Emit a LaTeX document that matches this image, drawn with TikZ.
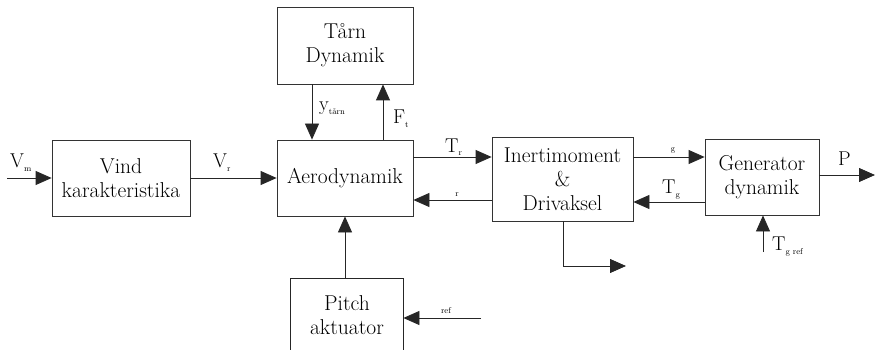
\documentclass[tikz,border=0pt]{standalone}
\usepackage{fontspec}
\usetikzlibrary{arrows.meta}
\newcommand{\sublab}[2]{#1\raisebox{-4pt}{\fontsize{8.5}{8.5}\selectfont #2}}
\begin{document}
\begin{tikzpicture}[x=1pt,y=-1pt,
  blk/.style={draw=black!80, line width=0.8pt, inner sep=0pt, align=center,
    font=\fontsize{21.5}{24}\selectfont},
  arr/.style={draw=black!85, line width=0.8pt, -{Triangle[length=16pt,width=14pt]}},
  ln/.style={draw=black!85, line width=0.8pt},
  lab/.style={inner sep=0pt, anchor=base west, font=\fontsize{20}{20}\selectfont},
  sml/.style={inner sep=0pt, font=\fontsize{8.5}{8.5}\selectfont}]
\useasboundingbox (0,0) rectangle (875,350);

% blocks
\node[blk, minimum width=138pt, minimum height=76pt] (vind) at (121,178) {Vind\\karakteristika};
\node[blk, minimum width=136pt, minimum height=76pt] (aero) at (345,178) {Aerodynamik};
\node[blk, minimum width=136pt, minimum height=77pt] (tarn) at (345,45.5) {Tårn\\Dynamik};
\node[blk, minimum width=141pt, minimum height=84pt] (inert) at (562.5,179) {Inertimoment\\\&\\Drivaksel};
\node[blk, minimum width=114pt, minimum height=76pt] (gen) at (762,177) {Generator\\dynamik};
\node[blk, draw=none, minimum width=112pt, minimum height=73pt] (pitch) at (347,315) {Pitch\\aktuator};
\draw[ln] (pitch.south west) -- (pitch.north west) -- (pitch.north east) -- (pitch.south east);

% free ends
\coordinate (vmin) at (7,178);
\coordinate (pout) at (875,175);
\coordinate (tgref) at (763,252);
\coordinate (refin) at (481,318);
\coordinate (dout) at (626,266);

% connectors
\draw[arr] (vmin) -- (vind.west);
\draw[arr] (vind.east) -- (aero.west);
\draw[arr] (tarn.south -| 312,0) -- (aero.north -| 312,0);
\draw[arr] (aero.north -| 383,0) -- (tarn.south -| 383,0);
\draw[arr] (aero.east |- 0,157) -- (inert.west |- 0,157);
\draw[arr] (inert.west |- 0,200) -- (aero.east |- 0,200);
\draw[arr] (inert.east |- 0,157) -- (gen.west |- 0,157);
\draw[arr] (gen.west |- 0,202) -- (inert.east |- 0,202);
\draw[arr] (gen.east |- pout) -- (pout);
\draw[arr] (tgref) -- (tgref |- gen.south);
\draw[arr] (aero.south |- pitch.north) -- (aero.south);
\draw[arr] (refin) -- (pitch.east |- refin);
\draw[arr] (inert.south -| 563,0) |- (dout);

% labels
\node[lab] (lvm) at (10,167) {\sublab{V}{m}};
\node[lab] (lvr) at (213,167) {\sublab{V}{r}};
\node[lab] (lyt) at (319,111) {\sublab{y}{tårn}};
\node[lab] (lft) at (393,124) {\sublab{F}{t}};
\node[lab] (ltr) at (445,152) {\sublab{T}{r}};
\node[lab] (ltg) at (662,193) {\sublab{T}{g}};
\node[lab] (lp) at (838,165) {P};
\node[lab] (ltgr) at (772,250) {\sublab{T}{g ref}};
\node[sml] (lr) at (457,195) {r};
\node[sml] (lg) at (673,150) {g};
\node[sml] (lref) at (446,311) {ref};
\end{tikzpicture}
\end{document}
